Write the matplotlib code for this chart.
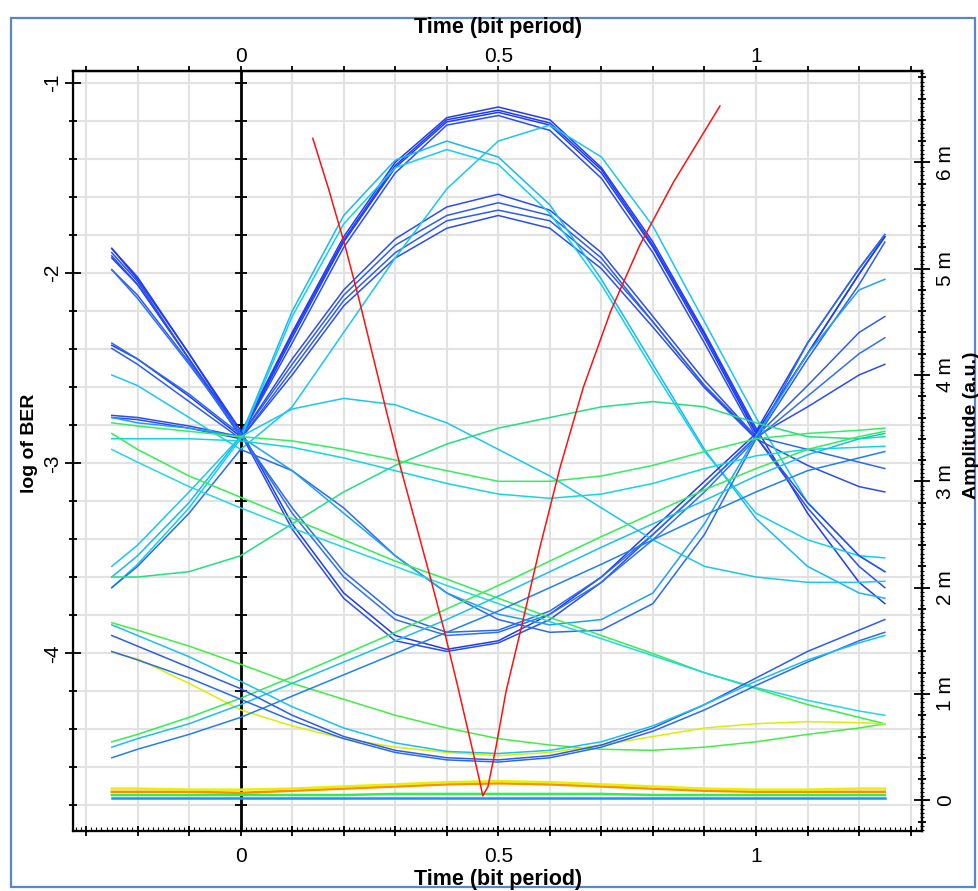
import numpy as np
import matplotlib.pyplot as plt
from matplotlib.ticker import MultipleLocator, FuncFormatter
from matplotlib.patches import Rectangle

plt.rcParams['font.family'] = ['Liberation Sans Narrow', 'Liberation Sans', 'DejaVu Sans']

# time grid (bit period) at which eye traces were read
t = [-0.25, -0.2, -0.1, 0.0, 0.1, 0.2, 0.3, 0.4, 0.5, 0.6, 0.7, 0.8, 0.9, 1.0, 1.1, 1.2, 1.25]

# eye traces, amplitude in mV (right axis)
traces = [
    # tall pulses
    ([5.19, 4.92, 4.20, 3.45, 4.40, 5.30, 6.00, 6.42, 6.52, 6.40, 5.95, 5.25, 4.40, 3.50, 2.70, 2.05, 1.85], '#1f3cf5'),
    ([5.10, 4.85, 4.15, 3.44, 4.38, 5.27, 5.97, 6.40, 6.49, 6.37, 5.93, 5.22, 4.38, 3.47, 4.30, 5.00, 5.32], '#1f3cf5'),
    ([4.28, 4.15, 3.80, 3.42, 4.35, 5.25, 5.95, 6.38, 6.47, 6.35, 5.90, 5.20, 4.35, 3.45, 4.20, 4.95, 5.30], '#1f3cf5'),
    ([3.62, 3.60, 3.52, 3.42, 4.30, 5.20, 5.90, 6.35, 6.44, 6.30, 5.85, 5.15, 4.30, 3.42, 3.70, 4.00, 4.10], '#2a4df0'),
    ([5.15, 4.88, 4.15, 3.42, 4.15, 4.80, 5.28, 5.58, 5.70, 5.55, 5.15, 4.55, 3.95, 3.42, 2.75, 2.20, 2.00], '#2a4df0'),
    ([4.99, 4.75, 4.12, 3.42, 4.10, 4.75, 5.22, 5.50, 5.62, 5.50, 5.10, 4.50, 3.90, 3.40, 4.15, 4.85, 5.25], '#2f5cf0'),
    ([4.25, 4.10, 3.75, 3.40, 4.05, 4.70, 5.15, 5.45, 5.55, 5.45, 5.05, 4.50, 3.90, 3.42, 3.90, 4.40, 4.55], '#2f5cf0'),
    ([3.60, 3.58, 3.50, 3.40, 4.00, 4.65, 5.10, 5.38, 5.50, 5.38, 5.00, 4.45, 3.88, 3.40, 3.15, 2.95, 2.90], '#2a4df0'),
    # shifted pulses (cyan)
    ([2.10, 2.30, 2.80, 3.42, 4.60, 5.50, 6.02, 6.20, 6.05, 5.60, 4.90, 4.10, 3.30, 2.65, 2.20, 1.95, 1.90], '#18b8f5'),
    ([2.00, 2.22, 2.75, 3.40, 4.55, 5.42, 5.95, 6.12, 5.98, 5.52, 4.85, 4.05, 3.28, 2.70, 2.45, 2.30, 2.28], '#10d0f0'),
    ([4.00, 3.90, 3.60, 3.30, 3.70, 4.40, 5.10, 5.75, 6.20, 6.35, 6.05, 5.40, 4.50, 3.60, 2.80, 2.30, 2.15], '#18c8f0'),
    # dips
    ([5.19, 4.90, 4.20, 3.48, 2.60, 1.95, 1.55, 1.42, 1.50, 1.75, 2.10, 2.55, 3.00, 3.45, 4.20, 4.95, 5.30], '#1f3cf5'),
    ([5.12, 4.85, 4.15, 3.45, 2.55, 1.90, 1.50, 1.40, 1.48, 1.70, 2.05, 2.50, 2.95, 3.42, 2.80, 2.30, 2.15], '#2a4df0'),
    ([4.99, 4.72, 4.10, 3.45, 2.70, 2.10, 1.70, 1.55, 1.58, 1.75, 2.05, 2.45, 2.90, 3.40, 3.80, 4.20, 4.35], '#3070f0'),
    ([4.30, 4.15, 3.82, 3.44, 2.75, 2.15, 1.75, 1.58, 1.60, 1.78, 2.10, 2.50, 2.95, 3.42, 3.30, 3.18, 3.12], '#2a6af0'),
    ([2.00, 2.20, 2.70, 3.30, 3.10, 2.75, 2.30, 1.95, 1.70, 1.58, 1.60, 1.85, 2.50, 3.40, 4.30, 5.00, 5.32], '#2a6af0'),
    ([3.60, 3.55, 3.50, 3.42, 3.10, 2.70, 2.30, 1.95, 1.75, 1.65, 1.70, 1.95, 2.60, 3.42, 4.20, 4.80, 4.90], '#20a0f5'),
    # bumps and flat-ish lines around the crossing level
    ([2.20, 2.40, 2.90, 3.42, 3.68, 3.78, 3.72, 3.55, 3.30, 3.05, 2.75, 2.45, 2.20, 2.10, 2.05, 2.05, 2.06], '#18c8f0'),
    ([2.10, 2.10, 2.15, 2.30, 2.60, 2.90, 3.15, 3.35, 3.50, 3.60, 3.70, 3.75, 3.70, 3.55, 3.42, 3.40, 3.42], '#20e080'),
    ([3.55, 3.52, 3.47, 3.42, 3.38, 3.30, 3.20, 3.10, 3.00, 3.00, 3.05, 3.15, 3.28, 3.40, 3.45, 3.48, 3.50], '#30f060'),
    ([3.40, 3.40, 3.40, 3.38, 3.32, 3.22, 3.10, 2.98, 2.88, 2.84, 2.88, 2.98, 3.12, 3.24, 3.30, 3.32, 3.33], '#10d8e0'),
    # long diagonals crossing near 0.5
    ([3.45, 3.30, 3.05, 2.85, 2.65, 2.45, 2.25, 2.08, 1.90, 1.72, 1.55, 1.38, 1.20, 1.05, 0.90, 0.78, 0.72], '#30f050'),
    ([3.30, 3.18, 2.95, 2.75, 2.56, 2.38, 2.20, 2.02, 1.85, 1.68, 1.52, 1.36, 1.20, 1.06, 0.94, 0.84, 0.80], '#20d8e0'),
    ([1.67, 1.60, 1.45, 1.28, 1.10, 0.95, 0.80, 0.68, 0.58, 0.52, 0.48, 0.47, 0.50, 0.55, 0.62, 0.68, 0.72], '#40f040'),
    ([1.39, 1.33, 1.10, 0.85, 0.70, 0.58, 0.50, 0.45, 0.42, 0.45, 0.52, 0.60, 0.68, 0.72, 0.74, 0.73, 0.72], '#d8f000'),
    ([0.50, 0.58, 0.72, 0.90, 1.10, 1.30, 1.50, 1.70, 1.92, 2.15, 2.38, 2.60, 2.82, 3.05, 3.25, 3.40, 3.45], '#18c0f0'),
    ([0.40, 0.48, 0.62, 0.78, 0.98, 1.18, 1.38, 1.58, 1.78, 2.00, 2.22, 2.45, 2.68, 2.90, 3.10, 3.22, 3.28], '#2080f0'),
    ([0.55, 0.62, 0.78, 0.96, 1.16, 1.37, 1.58, 1.80, 2.02, 2.25, 2.48, 2.70, 2.92, 3.12, 3.30, 3.42, 3.47], '#30f050'),
    # low pulses
    ([1.55, 1.45, 1.25, 1.05, 0.80, 0.60, 0.47, 0.40, 0.38, 0.42, 0.52, 0.68, 0.90, 1.15, 1.40, 1.60, 1.70], '#2a5cf0'),
    ([1.40, 1.32, 1.15, 0.95, 0.75, 0.58, 0.45, 0.38, 0.36, 0.40, 0.50, 0.65, 0.85, 1.08, 1.30, 1.50, 1.58], '#2a6af0'),
    ([1.65, 1.55, 1.35, 1.12, 0.88, 0.68, 0.54, 0.46, 0.44, 0.47, 0.55, 0.70, 0.90, 1.12, 1.32, 1.48, 1.55], '#18c0f0'),
    # zero level
    ([0.08, 0.08, 0.08, 0.07, 0.09, 0.11, 0.13, 0.15, 0.16, 0.15, 0.13, 0.11, 0.09, 0.08, 0.08, 0.08, 0.08], '#ff8c00'),
    ([0.11, 0.11, 0.10, 0.10, 0.11, 0.13, 0.15, 0.17, 0.18, 0.17, 0.15, 0.13, 0.11, 0.10, 0.10, 0.11, 0.11], '#e8f000'),
    ([0.05, 0.05, 0.05, 0.05, 0.05, 0.05, 0.06, 0.06, 0.06, 0.06, 0.06, 0.05, 0.05, 0.05, 0.05, 0.05, 0.05], '#30f050'),
    ([0.02, 0.02, 0.02, 0.02, 0.02, 0.02, 0.02, 0.02, 0.02, 0.02, 0.02, 0.02, 0.02, 0.02, 0.02, 0.02, 0.02], '#1890ff'),
]

# BER curve, log10 scale (left axis)
ber_t = [0.140, 0.170, 0.203, 0.230, 0.258, 0.285, 0.312, 0.340, 0.368, 0.395, 0.420, 0.445, 0.462, 0.470,
         0.480, 0.495, 0.515, 0.545, 0.580, 0.620, 0.665, 0.718, 0.775, 0.840, 0.930]
ber_log = [-1.29, -1.55, -1.86, -2.14, -2.45, -2.75, -3.04, -3.32, -3.60, -3.88, -4.16, -4.45, -4.65, -4.75,
           -4.70, -4.50, -4.20, -3.86, -3.45, -3.02, -2.60, -2.20, -1.85, -1.52, -1.12]

fig = plt.figure(figsize=(9.79, 8.91), dpi=100)
ax = fig.add_axes([0.0749, 0.0673, 0.8672, 0.8534])
ax.set_xlim(-0.3246, 1.3227)
ax.set_ylim(-4.935, -0.934)

ax.xaxis.set_major_locator(MultipleLocator(0.1))
ax.xaxis.set_minor_locator(MultipleLocator(0.01))
ax.yaxis.set_major_locator(MultipleLocator(1))
ax.yaxis.set_minor_locator(MultipleLocator(0.2))
ax.grid(True, which='major', axis='x', color='#e2e2e2', lw=1.5)
ax.grid(True, which='minor', axis='y', color='#e2e2e2', lw=1.5)
ax.grid(True, which='major', axis='y', color='#e2e2e2', lw=1.5)
ax.set_axisbelow(True)

def half_fmt(v, p):
    if abs(v * 2 - round(v * 2)) < 1e-6:
        return '%g' % (round(v, 2) + 0.0)
    return ''

ax.xaxis.set_major_formatter(FuncFormatter(half_fmt))
ax.yaxis.set_major_formatter(FuncFormatter(lambda v, p: '%d' % round(v)))
ax.tick_params(axis='x', which='major', direction='inout', length=7, width=1.3, labelsize=15, pad=8)
ax.tick_params(axis='x', which='minor', direction='in', length=3, width=0.8)
ax.tick_params(axis='y', which='major', direction='inout', length=11.5, width=1.3, labelsize=15, pad=2)
ax.tick_params(axis='y', which='minor', direction='inout', length=6.3, width=1.3)
for lab in ax.get_yticklabels():
    lab.set_rotation(90)
    lab.set_va('center')
for sp in ax.spines.values():
    sp.set_linewidth(1.6)

# black line at t = 0 with its own ticks
ax.axvline(0, color='black', lw=2, zorder=1.5)
ax.plot([0] * 20, np.arange(-4.8, -0.9, 0.2), ls='none', marker='_', ms=9, mew=1.3, color='black', zorder=1.6)

top = ax.secondary_xaxis('top')
top.xaxis.set_major_locator(MultipleLocator(0.1))
top.xaxis.set_major_formatter(FuncFormatter(half_fmt))
top.tick_params(axis='x', which='major', direction='inout', length=7, width=1.3, labelsize=15, pad=0)
top.spines['top'].set_linewidth(1.6)

ax2 = ax.twinx()
ax2.set_ylim(-0.289, 6.862)
ax2.yaxis.set_major_locator(MultipleLocator(1))
ax2.yaxis.set_minor_locator(MultipleLocator(0.2))
ax2.yaxis.set_major_formatter(FuncFormatter(lambda v, p: '0' if round(v) == 0 else '%d m' % round(v)))
ax2.tick_params(axis='y', which='major', direction='inout', length=11.5, width=1.3, labelsize=15, pad=4)
ax2.tick_params(axis='y', which='minor', direction='inout', length=6.3, width=1.3)
for lab in ax2.get_yticklabels():
    lab.set_rotation(90)
    lab.set_va('center')
ax2.spines['right'].set_linewidth(1.6)

dense = ax2.secondary_yaxis('right')
dense.yaxis.set_major_locator(MultipleLocator(10))
dense.yaxis.set_minor_locator(MultipleLocator(0.04))
dense.yaxis.set_major_formatter(FuncFormatter(lambda v, p: ''))
dense.tick_params(axis='y', which='minor', direction='inout', length=3, width=0.8)
dense.spines['right'].set_visible(False)

for vals, col in traces:
    lw = 1.8 if max(vals) < 0.3 else 1.1
    ax2.plot(t, vals, color=col, lw=lw, solid_joinstyle='round')

ax2.plot(ber_t, ber_log, color='#ff1010', lw=1.1, transform=ax.transData)

fig.text(0.5 * (0.0749 + 0.9421), 1 - 27 / 891, 'Time (bit period)', ha='center', va='center',
         fontsize=15.5, fontweight='bold')
fig.text(0.5 * (0.0749 + 0.9421), 1 - 880 / 891, 'Time (bit period)', ha='center', va='center',
         fontsize=15.5, fontweight='bold')
fig.text(30 / 979, 1 - 443 / 891, 'log of BER', rotation=90, ha='center', va='center',
         fontsize=14, fontweight='bold')
fig.text(972 / 979, 1 - 425 / 891, 'Amplitude (a.u.)', rotation=90, ha='center', va='center',
         fontsize=14, fontweight='bold')

fig.patches.append(Rectangle((11 / 979, 1 - 887 / 891), 964 / 979, 869 / 891, transform=fig.transFigure,
                             fill=False, edgecolor='#5b86c5', lw=1.6))

fig.savefig('out.png', dpi=100)
